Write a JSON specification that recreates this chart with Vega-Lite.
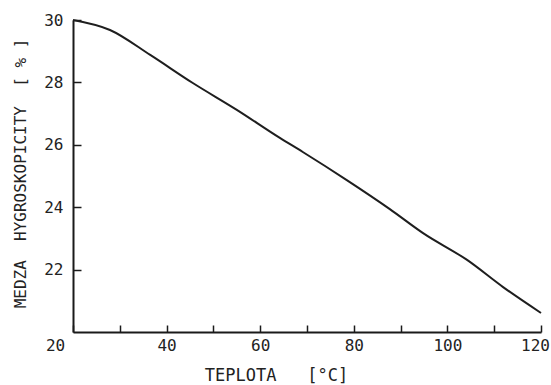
{
  "$schema": "https://vega.github.io/schema/vega-lite/v6.json",
  "autosize": {"type": "none"},
  "padding": {"left": 73, "top": 20, "right": 10, "bottom": 53},
  "width": 468,
  "height": 312,
  "background": "white",
  "config": {
    "view": {"stroke": null},
    "axis": {
      "grid": false,
      "domainColor": "#1a1a1a",
      "domainWidth": 2,
      "tickColor": "#1a1a1a",
      "tickWidth": 1.5,
      "labelFont": "DejaVu Sans Mono",
      "labelFontSize": 16,
      "labelColor": "#222",
      "titleFont": "DejaVu Sans Mono",
      "titleFontWeight": "normal",
      "titleColor": "#222"
    }
  },
  "data": {
    "values": [
      {"t": 20, "m": 30.0},
      {"t": 27.9, "m": 29.68},
      {"t": 36.5, "m": 28.88},
      {"t": 45.6, "m": 27.98},
      {"t": 55.0, "m": 27.12},
      {"t": 64.2, "m": 26.22},
      {"t": 69.1, "m": 25.77},
      {"t": 78.5, "m": 24.87},
      {"t": 87.7, "m": 23.94},
      {"t": 94.8, "m": 23.17},
      {"t": 104.2, "m": 22.31},
      {"t": 111.9, "m": 21.44},
      {"t": 120, "m": 20.61}
    ]
  },
  "mark": {"type": "line", "color": "#1e1e1e", "strokeWidth": 2, "interpolate": "monotone", "clip": false},
  "encoding": {
    "x": {
      "field": "t",
      "type": "quantitative",
      "scale": {"domain": [20, 120], "nice": false, "zero": false},
      "axis": {
        "title": "TEPLOTA\u00a0\u00a0\u00a0[°C]",
        "titleFontSize": 17,
        "titleX": 203,
        "titleY": 35,
        "values": [20, 30, 40, 50, 60, 70, 80, 90, 100, 110, 120],
        "labelExpr": "datum.value % 20 == 0 ? datum.label : ''",
        "tickSize": -7,
        "labelPadding": 12,
        "labelFlush": false,
        "labelOverlap": false,
        "labelBound": false,
        "labelOffset": {"condition": [{"test": "datum.value == 20", "value": -18}, {"test": "datum.value == 120", "value": -6}], "value": 0}
      }
    },
    "y": {
      "field": "m",
      "type": "quantitative",
      "scale": {"domain": [20, 30], "nice": false, "zero": false},
      "axis": {
        "title": "MEDZA\u00a0\u00a0HYGROSKOPICITY\u00a0\u00a0[\u00a0%\u00a0]",
        "titleFontSize": 16,
        "titleX": -45,
        "titleY": 153,
        "values": [22, 24, 26, 28, 30],
        "tickSize": -8,
        "labelPadding": 18,
        "labelFlush": false,
        "labelOverlap": false
      }
    }
  }
}
